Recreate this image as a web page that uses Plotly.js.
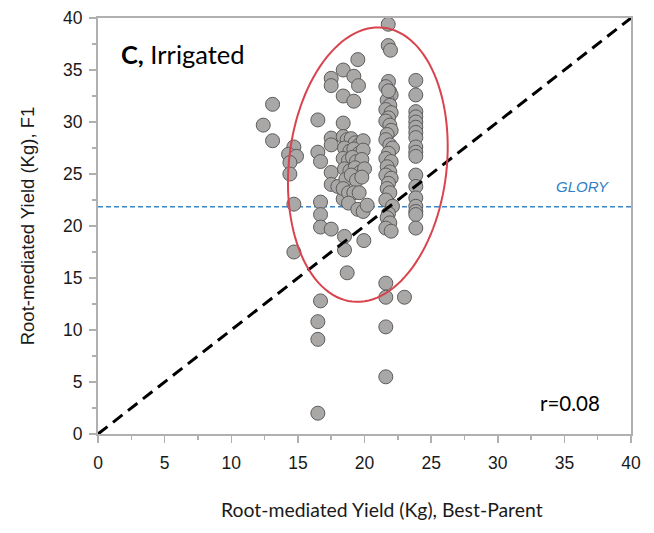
<!DOCTYPE html>
<html>
<head>
<meta charset="utf-8">
<script src="https://cdn.plot.ly/plotly-3.0.1.min.js"></script>
<style>
  html, body { margin: 0; padding: 0; background: #ffffff; }
  #chart { width: 654px; height: 533px; }
</style>
</head>
<body>
<div id="chart"></div>
<script>
// Best-parent root-mediated yield (x) vs F1 root-mediated yield (y), kg
var bestParentX = [
  12.4, 13.1, 13.1,
  14.7, 14.3, 14.9, 14.4, 14.4, 14.7, 14.7,
  16.5, 16.5, 16.7, 16.7, 16.7, 16.7, 16.7, 16.5, 16.5, 16.5,
  17.5, 17.5, 17.5, 17.5, 17.5, 17.5, 17.5, 18.0,
  18.4, 18.4, 18.4, 18.4, 18.5, 18.5, 18.7,
  19.2, 19.2, 19.5, 19.55, 19.95,
  18.4, 18.7, 19.0, 19.3, 19.6, 19.9,
  18.5, 18.9, 19.2, 19.6, 19.9,
  18.4, 18.8, 19.1, 19.4, 19.8,
  18.5, 18.9, 19.3, 19.7, 20.0,
  18.6, 19.0, 19.4, 19.8,
  18.4, 18.8, 19.2, 19.6,
  18.8, 19.5, 19.9, 20.2,
  21.8, 21.6, 21.9, 22.0, 21.7, 21.9, 21.6, 22.0, 21.8, 21.6, 21.9,
  22.0, 21.7, 21.6, 21.9, 22.1, 21.8, 21.6, 22.0, 21.7, 21.9,
  21.6, 22.0, 21.8, 21.7, 21.9, 21.6, 22.1, 21.8, 21.7, 21.9,
  21.6, 22.0, 21.8,
  21.78, 21.78, 21.95,
  21.6, 21.6, 21.6, 21.6, 23.0,
  23.85, 23.85, 23.85, 23.85, 23.85, 23.85, 23.85, 23.85, 23.85,
  23.85, 23.85, 23.85, 23.85, 23.85, 23.85, 23.85, 23.85, 23.85
];
var f1Y = [
  29.7, 31.7, 28.2,
  27.6, 26.9, 26.7, 26.1, 25.0, 22.1, 17.5,
  30.2, 27.1, 26.2, 22.3, 21.1, 19.9, 12.8, 10.8, 9.1, 2.0,
  34.2, 33.5, 28.45, 27.8, 25.15, 24.0, 19.7, 23.8,
  35.0, 32.5, 29.9, 22.6, 19.0, 17.7, 15.5,
  34.4, 32.0, 36.0, 33.5, 18.6,
  28.6, 28.3, 28.4, 28.0, 27.8, 28.2,
  27.5, 27.2, 27.4, 27.0, 27.3,
  26.5, 26.3, 26.6, 26.2, 26.4,
  25.5, 25.3, 25.6, 25.2, 25.5,
  24.5, 24.9, 24.4, 24.7,
  23.6, 23.2, 23.2, 23.2,
  22.2, 21.6, 21.4, 22.0,
  33.9, 33.4, 32.9, 32.6, 32.1, 31.6, 31.2, 30.9, 30.4, 30.1, 29.7,
  29.2, 28.8, 28.3, 27.8, 27.5, 27.0, 26.5, 26.2, 25.7, 25.2,
  24.9, 24.6, 24.1, 23.6, 23.2, 22.5, 21.9, 21.2, 20.8, 20.3,
  19.8, 19.5, 33.0,
  39.4, 37.35, 36.9,
  14.5, 13.15, 10.3, 5.5, 13.15,
  34.0, 32.6, 31.0, 30.5, 30.0, 29.5, 29.0, 28.5, 27.6,
  27.1, 26.7, 24.9, 23.8, 22.7, 21.9, 21.4, 21.1, 19.8
];
var axisRange = [0, 40];
var gloryValue = 21.85;
var panelLabel = "Irrigated";
var rText = "r=0.08";
var xTitle = "Root-mediated Yield (Kg), Best-Parent";
var yTitle = "Root-mediated Yield (Kg), F1";

// highlight ellipse parameters (data centre, pixel semi-axes, tilt)
var ell = {cx: 20.25, cy: 25.9, a: 79, b: 138, tiltDeg: 6.5};

var plotW = 534, plotH = 416.5;
var sx = plotW / (axisRange[1] - axisRange[0]);
var sy = plotH / (axisRange[1] - axisRange[0]);
var th = ell.tiltDeg * Math.PI / 180;
var path = "";
for (var i = 0; i <= 120; i++) {
  var t = 2 * Math.PI * i / 120;
  var dx = ell.a * Math.cos(t), dy = ell.b * Math.sin(t);
  var rx = dx * Math.cos(th) + dy * Math.sin(th);
  var ry = -dx * Math.sin(th) + dy * Math.cos(th);
  var X = ell.cx + rx / sx, Y = ell.cy + ry / sy;
  path += (i === 0 ? "M" : "L") + X.toFixed(4) + "," + Y.toFixed(4);
}
path += "Z";

var traces = [
  {
    x: axisRange, y: [gloryValue, gloryValue], mode: "lines",
    line: {color: "#3a86c8", width: 1.3, dash: "5px,3px"},
    hoverinfo: "skip", showlegend: false
  },
  {
    x: bestParentX, y: f1Y, mode: "markers", type: "scatter",
    marker: {size: 14, color: "#aaa7a7", line: {color: "#5c5c5c", width: 1}},
    showlegend: false
  },
  {
    x: axisRange, y: axisRange, mode: "lines",
    line: {color: "#000000", width: 3, dash: "12px,7px"},
    hoverinfo: "skip", showlegend: false
  }
];

var axisCommon = {
  range: axisRange, dtick: 5, tick0: 0,
  showgrid: false, zeroline: false,
  showline: true, linecolor: "#b0b0b0", linewidth: 2, mirror: true,
  ticks: "outside", ticklen: 7, tickwidth: 1.5, tickcolor: "#b0b0b0",
  minor: {dtick: 2.5, ticks: "outside", ticklen: 4, tickwidth: 1.5, tickcolor: "#b0b0b0"},
  tickfont: {family: "Liberation Sans, Arial, sans-serif", size: 17.5, color: "#1a1a1a"},
  fixedrange: true
};

var layout = {
  width: 654, height: 533,
  margin: {l: 97.5, r: 22.5, t: 18, b: 98.5},
  paper_bgcolor: "#ffffff", plot_bgcolor: "#ffffff",
  xaxis: Object.assign({}, axisCommon, {ticklabelstandoff: 5}),
  yaxis: Object.assign({}, axisCommon, {
    ticklabelstandoff: 3,
    title: {text: yTitle, standoff: 24,
            font: {family: "Liberation Sans, Arial, sans-serif", size: 18.5, color: "#1a1a1a"}}
  }),
  shapes: [
    {type: "path", path: path, xref: "x", yref: "y",
     line: {color: "#d8434e", width: 2}, fillcolor: "rgba(0,0,0,0)", layer: "above"}
  ],
  annotations: [
    {x: 0.5337, y: -0.181, xref: "paper", yref: "paper", xanchor: "center", yanchor: "middle",
     text: xTitle, showarrow: false,
     font: {family: "Lato, Open Sans, sans-serif", size: 19.4, color: "#1a1a1a"}},
    {x: 0.04, y: 0.955, xref: "paper", yref: "paper", xanchor: "left", yanchor: "top",
     text: "<b>C,</b> " + panelLabel, showarrow: false,
     font: {family: "Lato, Open Sans, sans-serif", size: 25.5, color: "#000000"}},
    {x: 37.85, y: 3.0, xref: "x", yref: "y", xanchor: "right", yanchor: "middle",
     text: rText, showarrow: false,
     font: {family: "Lato, Open Sans, sans-serif", size: 20.5, color: "#000000"}},
    {x: 38.5, y: gloryValue + 1.95, xref: "x", yref: "y", xanchor: "right", yanchor: "middle",
     text: "<i>GLORY</i>", showarrow: false,
     font: {family: "Liberation Sans, Arial, sans-serif", size: 15, color: "#2f7fc6"}}
  ]
};

Plotly.newPlot("chart", traces, layout, {displayModeBar: false, staticPlot: true});
</script>
</body>
</html>
